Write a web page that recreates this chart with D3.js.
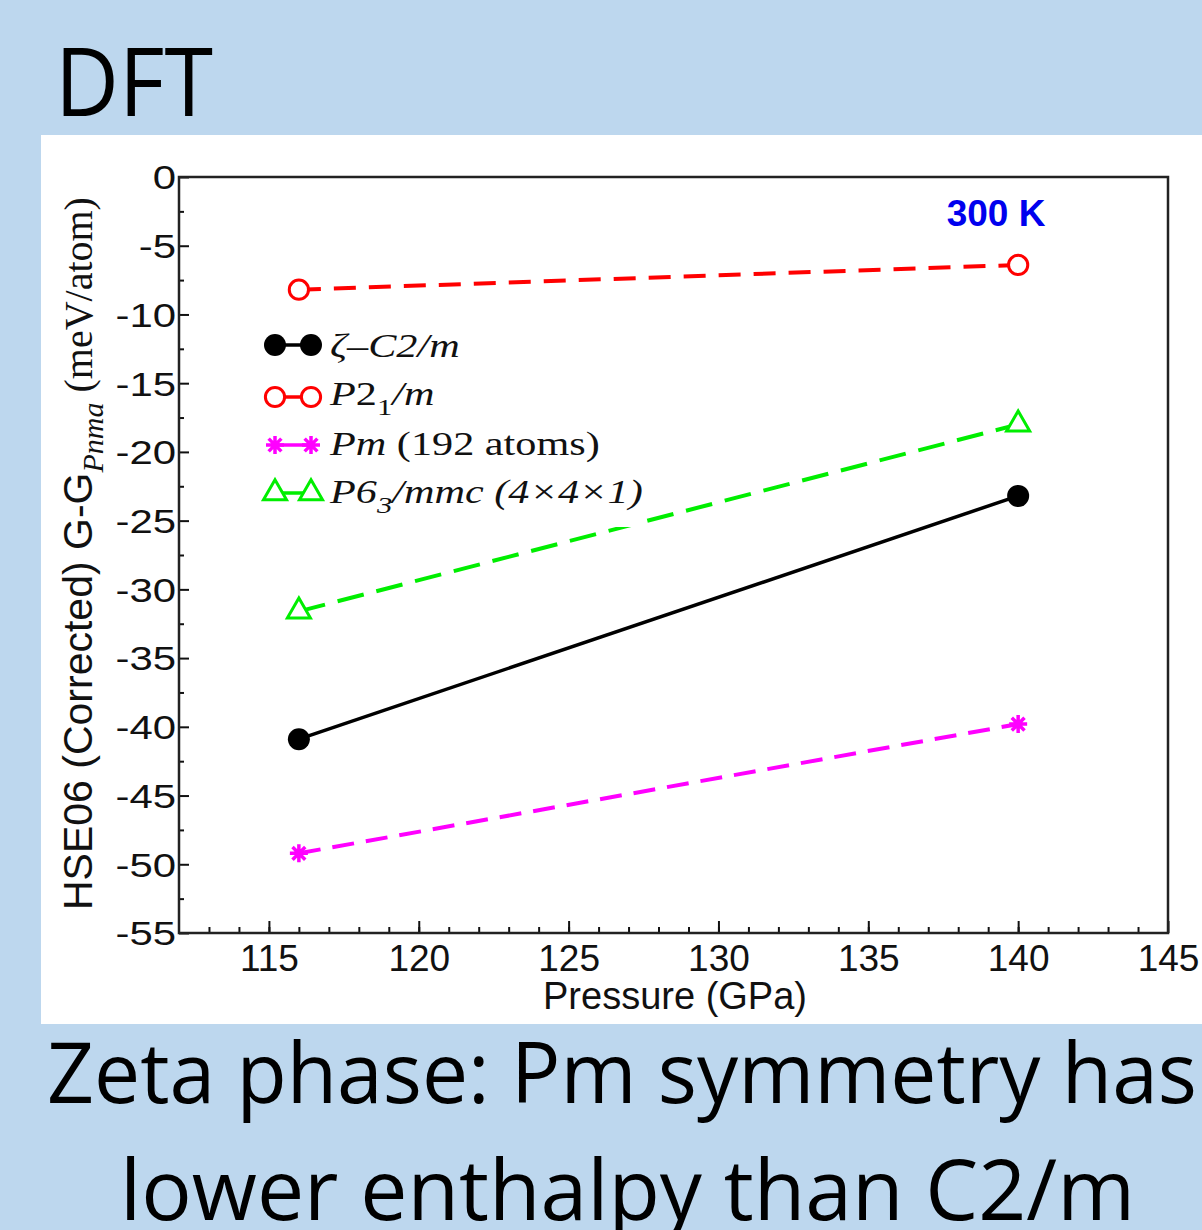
<!DOCTYPE html>
<html>
  <head>
    <meta charset="utf-8">
    <title>DFT - Zeta phase</title>
    <script src="https://d3js.org/d3.v7.min.js"></script>
    <style>
      body { margin: 0; background: #bdd7ee; }
      svg { display: block; }
      .tick line { stroke: #111; stroke-width: 2; }
      .sans { font-family: "Liberation Sans", Arial, sans-serif; }
      .serif { font-family: "Liberation Serif", "Times New Roman", serif; }
      .slide { font-family: "Open Sans", "Noto Sans", sans-serif; }
    </style>
  </head>
  <body>
    <svg id="chart" width="1202" height="1230"></svg>
    <script>
      // data (meV/atom, relative to Pnma)
      pressures = [116, 140];
      c2m = [-40.9, -23.2];
      p21m = [-8.2, -6.4];
      pm192 = [-49.2, -39.8];
      p63mmc = [-31.6, -18.0];
      xTicks = [115, 120, 125, 130, 135, 140, 145];
      yTicks = [0, -5, -10, -15, -20, -25, -30, -35, -40, -45, -50, -55];
      // legend labels, split in styled parts: [text, italic, subscript]
      legendLabels = [
        [["ζ–C2/m", true, false]],
        [["P", true, false], ["2", false, false], ["1", false, true], ["/m", true, false]],
        [["Pm", true, false], [" (192 atoms)", false, false]],
        [["P6", true, false], ["3", true, true], ["/mmc (4×4×1)", true, false]]
      ];

      series = [
        { values: c2m, colour: "#000000", dash: null, marker: "dot" },
        { values: p21m, colour: "#ff0000", dash: "22,13", marker: "ring" },
        { values: pm192, colour: "#ff00ff", dash: "22,12", marker: "star" },
        { values: p63mmc, colour: "#00ee00", dash: "27,13", marker: "tri" }
      ];

      svg = d3.select("#chart");
      svg.append("rect").attr("width", 1202).attr("height", 1230).attr("fill", "#bdd7ee");
      svg.append("rect").attr("x", 41).attr("y", 135).attr("width", 1161).attr("height", 889)
        .attr("fill", "#ffffff");

      // slide texts
      svg.append("text").attr("class", "slide").attr("x", 55).attr("y", 116)
        .attr("font-size", 96).attr("textLength", 158).attr("lengthAdjust", "spacingAndGlyphs")
        .text("DFT");
      svg.append("text").attr("class", "slide").attr("x", 47).attr("y", 1103)
        .attr("font-size", 84).attr("textLength", 1150).attr("lengthAdjust", "spacingAndGlyphs")
        .text("Zeta phase: Pm symmetry has");
      svg.append("text").attr("class", "slide").attr("x", 120).attr("y", 1220)
        .attr("font-size", 84).attr("textLength", 1015).attr("lengthAdjust", "spacingAndGlyphs")
        .text("lower enthalpy than C2/m");

      plot = { left: 179, right: 1168, top: 177, bottom: 933 };
      x = d3.scaleLinear().domain([112, 145]).range([plot.left, plot.right]);
      y = d3.scaleLinear().domain([-55, 0]).range([plot.bottom, plot.top]);

      // minor ticks
      svg.append("g").attr("transform", "translate(0," + plot.bottom + ")")
        .call(d3.axisBottom(x).tickValues(d3.range(113, 145)).tickSizeInner(-6).tickSizeOuter(0).tickFormat(""))
        .call(g => g.select(".domain").remove());
      svg.append("g").attr("transform", "translate(" + plot.left + ",0)")
        .call(d3.axisLeft(y).tickValues(d3.range(-52.5, 0, 5)).tickSizeInner(-5).tickSizeOuter(0).tickFormat(""))
        .call(g => g.select(".domain").remove());

      // major ticks
      xAxisGroup = svg.append("g").attr("transform", "translate(0," + plot.bottom + ")")
        .call(d3.axisBottom(x).tickValues(xTicks).tickSizeInner(-12).tickSizeOuter(0));
      xAxisGroup.select(".domain").remove();
      xAxisGroup.selectAll("text").attr("class", "sans").attr("font-size", 37)
        .attr("fill", "#111").attr("y", 38).attr("dy", 0);
      yAxisGroup = svg.append("g").attr("transform", "translate(" + plot.left + ",0)")
        .call(d3.axisLeft(y).tickValues(yTicks).tickSizeInner(-10).tickSizeOuter(0)
          .tickFormat(d => String(d)));
      yAxisGroup.select(".domain").remove();
      yAxisGroup.selectAll("text").attr("class", "sans").attr("font-size", 33)
        .attr("fill", "#111").attr("x", -3 / 1.27).attr("dy", "0.36em")
        .attr("transform", "scale(1.27,1)");
      svg.selectAll(".tick text").style("font-family", "'Liberation Sans', Arial, sans-serif");

      // frame
      svg.append("rect").attr("x", plot.left).attr("y", plot.top)
        .attr("width", plot.right - plot.left).attr("height", plot.bottom - plot.top)
        .attr("fill", "none").attr("stroke", "#222").attr("stroke-width", 2.5);

      // axis titles
      svg.append("text").attr("class", "sans").attr("x", 675).attr("y", 1009)
        .attr("text-anchor", "middle").attr("font-size", 38).attr("fill", "#111")
        .text("Pressure (GPa)");
      yTitle = svg.append("text").attr("transform", "translate(92,910) rotate(-90)")
        .attr("fill", "#111");
      yTitle.append("tspan").attr("class", "sans").attr("font-size", 41).text("HSE06 (Corrected) G-G");
      yTitle.append("tspan").attr("class", "serif").attr("font-size", 30).attr("font-style", "italic")
        .attr("dy", 11).text("Pnma");
      yTitle.append("tspan").attr("class", "serif").attr("font-size", 40).attr("dy", -11)
        .text(" (meV/atom)");

      svg.append("text").attr("class", "sans").attr("x", 996).attr("y", 226)
        .attr("text-anchor", "middle").attr("font-size", 37).attr("font-weight", "bold")
        .attr("fill", "#0000ee").text("300 K");

      // series lines
      line = d3.line().x(d => x(d[0])).y(d => y(d[1]));
      series.forEach(function(s) {
        svg.append("path")
          .datum(pressures.map((p, i) => [p, s.values[i]]))
          .attr("d", line)
          .attr("fill", "none")
          .attr("stroke", s.colour)
          .attr("stroke-width", s.dash ? 4 : 3.5)
          .attr("stroke-dasharray", s.dash);
      });

      function starPath(r) {
        var p = "";
        for (var k = 0; k < 4; k++) {
          var a = k * Math.PI / 4;
          p += "M" + (r * Math.cos(a)) + "," + (r * Math.sin(a)) +
            "L" + (-r * Math.cos(a)) + "," + (-r * Math.sin(a));
        }
        return p;
      }
      function drawMarker(g, s, cx, cy) {
        var m = g.append("path").attr("transform", "translate(" + cx + "," + cy + ")");
        if (s.marker == "dot") {
          m.attr("d", d3.symbol(d3.symbolCircle, 380)()).attr("fill", s.colour);
        } else if (s.marker == "ring") {
          m.attr("d", d3.symbol(d3.symbolCircle, 290)()).attr("fill", "#fff")
            .attr("stroke", s.colour).attr("stroke-width", 3);
        } else if (s.marker == "star") {
          m.attr("d", starPath(9)).attr("stroke", s.colour).attr("stroke-width", 3.5);
        } else {
          m.attr("d", d3.symbol(d3.symbolTriangle, 230)()).attr("fill", "#fff")
            .attr("stroke", s.colour).attr("stroke-width", 3);
        }
      }

      // legend (white box hides the line beneath it)
      legend = svg.append("g");
      legend.append("rect").attr("x", 255).attr("y", 318).attr("width", 390).attr("height", 209)
        .attr("fill", "#fff");
      legendRows = [345, 397, 445, 493];
      legendBase = [357, 405, 455, 503];
      series.forEach(function(s, i) {
        legend.append("line").attr("x1", 275).attr("x2", 311)
          .attr("y1", legendRows[i]).attr("y2", legendRows[i])
          .attr("stroke", s.colour).attr("stroke-width", 3.5);
        drawMarker(legend, s, 275, legendRows[i]);
        drawMarker(legend, s, 311, legendRows[i]);
        var t = legend.append("text").attr("class", "serif").attr("font-size", 33).attr("fill", "#111")
          .attr("transform", "translate(330," + legendBase[i] + ") scale(1.28,1)");
        var shifted = false;
        legendLabels[i].forEach(function(part) {
          var ts = t.append("tspan").text(part[0])
            .attr("font-style", part[1] ? "italic" : "normal");
          if (part[2]) { ts.attr("font-size", 24).attr("dy", 10); shifted = true; }
          else if (shifted) { ts.attr("dy", -10); shifted = false; }
        });
      });

      // data markers
      series.forEach(function(s) {
        pressures.forEach(function(p, i) {
          drawMarker(svg, s, x(p), y(s.values[i]));
        });
      });
    </script>
  </body>
</html>
